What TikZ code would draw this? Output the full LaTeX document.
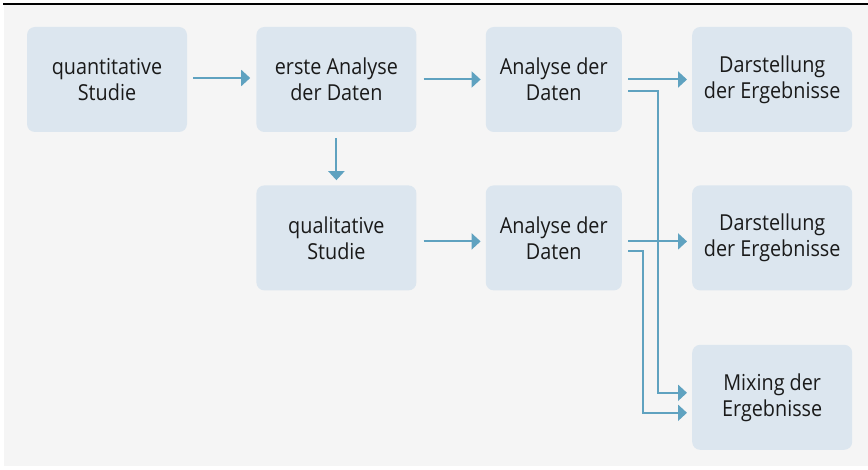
\documentclass[tikz,border=0pt]{standalone}
\usepackage{fontspec}
\setmainfont{Open Sans}[FakeStretch=0.9]
\usepackage{tikz}
\usetikzlibrary{positioning}
\usetikzlibrary{arrows.meta}
\definecolor{boxfill}{HTML}{DCE6EF}
\definecolor{linkcol}{HTML}{5FA2C0}
\definecolor{panelgray}{HTML}{F5F5F5}
\definecolor{textcol}{HTML}{1A1A1A}
\tikzset{
    stage/.style = {rectangle, rounded corners=8pt, fill=boxfill, align=center, minimum height=105pt, inner sep=0pt, text=textcol, font=\fontsize{22pt}{26pt}\selectfont},
    widestage/.style = {stage, minimum width=160pt},
    narrowstage/.style = {stage, minimum width=136pt},
    link/.style = {draw=linkcol, line width=2pt, -{Triangle[length=9pt,width=16pt]}}}

\begin{document}
\begin{tikzpicture}[x=1pt,y=1pt]
        \useasboundingbox (0,0) rectangle (868,-470);
        \fill[white] (0,0) rectangle (868,-470);
        \fill[panelgray] (4,-5) rectangle (868,-466);
        \draw[line width=2pt] (3,-4) -- (868,-4);
        % first row
        \node[widestage] (quant) at (107,-79.5) {quantitative\\Studie};
        \node[widestage, right=69pt of quant] (erste) {erste Analyse\\der Daten};
        \node[narrowstage, right=69pt of erste] (anaA) {Analyse der\\Daten};
        \node[widestage, right=70pt of anaA] (darA) {Darstellung\\der Ergebnisse};
        % second row
        \node[widestage, below=53pt of erste] (qual) {qualitative\\Studie};
        \node[narrowstage, below=53pt of anaA] (anaB) {Analyse der\\Daten};
        \node[widestage, below=53pt of darA] (darB) {Darstellung\\der Ergebnisse};
        % mixing
        \node[widestage, below=54pt of darB] (mix) {Mixing der\\Ergebnisse};
        \draw[link] ([xshift=6pt,yshift=1.5pt]quant.east) -- ([xshift=-6pt,yshift=1.5pt]erste.west);
        \draw[link] ([xshift=7pt]erste.east) -- ([xshift=-5pt]anaA.west);
        \draw[link] ([xshift=6pt]anaA.east) -- ([xshift=-5pt]darA.west);
        \draw[link] ([yshift=-6pt]erste.south) -- ([yshift=5pt]qual.north);
        \draw[link] ([xshift=7pt,yshift=-3.5pt]qual.east) -- ([xshift=-5pt,yshift=-3.5pt]anaB.west);
        \draw[link] ([xshift=6pt,yshift=-3.5pt]anaB.east) -- ([xshift=-5pt,yshift=-3.5pt]darB.west);
        \draw[link] ([xshift=6pt,yshift=-11.5pt]anaA.east) -- ++(30pt,0) |- ([xshift=-5pt,yshift=4.5pt]mix.west);
        \draw[link] ([xshift=6pt,yshift=-13.5pt]anaB.east) -- ++(15pt,0) |- ([xshift=-5pt,yshift=-15.5pt]mix.west);
\end{tikzpicture}
\end{document}
